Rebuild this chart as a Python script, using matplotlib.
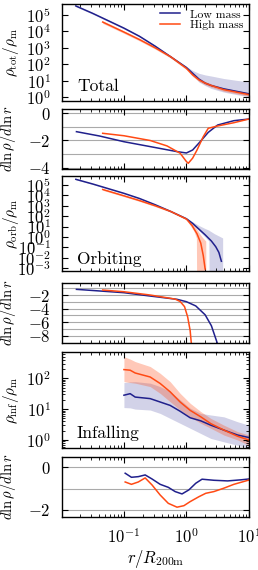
import numpy as np
import matplotlib
matplotlib.use("Agg")
from matplotlib import pyplot as plt

#-----------------------Data (log10 values)-----------------------#

# total density
lr_tot_low = [-1.77, -1.5, -1.25, -1.0, -0.75, -0.5, -0.25, 0.0, 0.1, 0.2, 0.3, 0.4, 0.6, 0.8, 1.0]
ld_tot_low = [5.55, 5.1, 4.65, 4.2, 3.7, 3.1, 2.45, 1.8, 1.45, 1.1, 0.85, 0.7, 0.5, 0.35, 0.2]
ld_tot_low_up = [5.6, 5.15, 4.7, 4.25, 3.75, 3.15, 2.5, 1.87, 1.62, 1.45, 1.35, 1.28, 1.13, 1.02, 0.93]
ld_tot_low_dn = [5.5, 5.05, 4.6, 4.15, 3.65, 3.05, 2.4, 1.75, 1.35, 0.92, 0.7, 0.52, 0.3, 0.15, 0.02]

lr_tot_high = [-1.34, -1.0, -0.75, -0.5, -0.25, 0.0, 0.1, 0.2, 0.3, 0.4, 0.6, 0.8, 1.0]
ld_tot_high = [4.57, 3.96, 3.5, 3.0, 2.45, 1.75, 1.35, 1.05, 0.85, 0.7, 0.45, 0.3, 0.15]
ld_tot_high_up = [4.65, 4.04, 3.58, 3.08, 2.53, 1.83, 1.45, 1.15, 0.95, 0.8, 0.55, 0.4, 0.26]
ld_tot_high_dn = [4.49, 3.88, 3.42, 2.92, 2.37, 1.67, 1.25, 0.95, 0.75, 0.6, 0.35, 0.2, 0.05]

# total slope
lr_slp_tot_low = [-1.76, -1.39, -1.0, -0.58, -0.15, 0.0, 0.1, 0.22, 0.35, 0.5, 0.76, 1.0]
slp_tot_low = [-1.35, -1.67, -2.09, -2.45, -2.82, -2.92, -2.7, -2.09, -1.4, -0.86, -0.54, -0.42]
lr_slp_tot_high = [-1.34, -1.0, -0.58, -0.31, -0.1, 0.0, 0.03, 0.1, 0.17, 0.27, 0.35, 0.5, 0.76, 1.0]
slp_tot_high = [-1.47, -1.65, -2.0, -2.4, -2.94, -3.55, -3.68, -3.3, -2.7, -1.72, -1.1, -0.93, -0.69, -0.42]

# orbiting density
lr_orb_low = [-1.77, -1.5, -1.25, -1.0, -0.75, -0.5, -0.25, 0.0, 0.1, 0.2, 0.3, 0.4, 0.47, 0.52, 0.56]
ld_orb_low = [5.55, 5.1, 4.65, 4.2, 3.7, 3.1, 2.45, 1.75, 1.3, 0.75, 0.2, -0.4, -0.95, -1.5, -2.35]
lr_orb_low_band = [-1.77, -1.5, -1.25, -1.0, -0.75, -0.5, -0.25, 0.0, 0.1, 0.2, 0.3, 0.36, 0.37, 0.45, 0.58, 0.585]
ld_orb_low_up = [5.6, 5.15, 4.7, 4.25, 3.75, 3.15, 2.5, 1.82, 1.45, 1.1, 0.8, 0.65, 0.6, 0.3, -0.1, -10]
ld_orb_low_dn = [5.5, 5.05, 4.6, 4.15, 3.65, 3.05, 2.4, 1.7, 1.2, 0.6, 0.0, -0.4, -10, -10, -10, -10]

lr_orb_high = [-1.34, -1.0, -0.75, -0.5, -0.25, 0.0, 0.09, 0.17, 0.23, 0.27, 0.30]
ld_orb_high = [4.57, 3.96, 3.5, 3.0, 2.45, 1.72, 1.1, 0.3, -0.6, -1.8, -3.1]
lr_orb_high_band = [-1.34, -1.0, -0.75, -0.5, -0.25, 0.0, 0.09, 0.12, 0.16, 0.17, 0.25, 0.31, 0.315]
ld_orb_high_up = [4.65, 4.04, 3.58, 3.08, 2.53, 1.8, 1.3, 1.1, 0.8, 0.7, 0.0, -0.4, -10]
ld_orb_high_dn = [4.49, 3.88, 3.42, 2.92, 2.37, 1.64, 0.85, 0.55, -0.1, -10, -10, -10, -10]

# orbiting slope
lr_slp_orb_low = [-1.76, -1.0, -0.58, -0.15, 0.0, 0.15, 0.3, 0.4, 0.5]
slp_orb_low = [-1.17, -1.66, -2.15, -2.63, -2.98, -3.6, -4.9, -6.5, -9.2]
lr_slp_orb_high = [-1.34, -1.0, -0.58, -0.18, -0.1, -0.03, 0.02, 0.06, 0.08]
slp_orb_high = [-1.27, -1.52, -2.0, -2.6, -2.95, -3.7, -5.2, -7.2, -9.2]

# infalling density
lr_inf = [-1.0, -0.9, -0.82, -0.58, -0.42, -0.26, -0.1, 0.06, 0.23, 0.39, 0.6, 0.82, 1.0]
ld_inf_low = [1.45, 1.5, 1.39, 1.34, 1.23, 1.12, 0.93, 0.72, 0.62, 0.48, 0.32, 0.16, 0.08]
ld_inf_low_up = [1.86, 1.88, 1.89, 1.84, 1.73, 1.57, 1.3, 1.03, 0.86, 0.81, 0.75, 0.59, 0.48]
ld_inf_low_dn = [1.05, 1.04, 1.0, 0.97, 0.86, 0.7, 0.54, 0.38, 0.21, 0.05, -0.06, -0.17, -0.27]
ld_inf_high = [2.28, 2.26, 2.17, 2.04, 1.83, 1.56, 1.23, 0.96, 0.75, 0.53, 0.32, 0.12, 0.0]
ld_inf_high_up = [2.7, 2.62, 2.54, 2.38, 2.16, 1.89, 1.51, 1.19, 0.92, 0.7, 0.48, 0.27, 0.16]
ld_inf_high_dn = [1.89, 1.86, 1.84, 1.73, 1.51, 1.24, 0.97, 0.75, 0.54, 0.38, 0.16, 0.0, -0.17]

# infalling slope
lr_slp_inf_low = [-0.98, -0.88, -0.77, -0.66, -0.55, -0.42, -0.29, -0.18, -0.07, 0.04, 0.15, 0.25, 0.44, 0.66, 0.87, 1.0]
slp_inf_low = [-0.28, -0.47, -0.44, -0.36, -0.55, -0.8, -0.94, -1.14, -1.25, -1.06, -0.75, -0.56, -0.61, -0.64, -0.59, -0.55]
lr_slp_inf_high = [-0.98, -0.88, -0.77, -0.66, -0.55, -0.42, -0.29, -0.15, -0.04, 0.06, 0.2, 0.31, 0.44, 0.6, 0.76, 1.0]
slp_inf_high = [-0.69, -0.8, -0.69, -0.5, -0.83, -1.3, -1.69, -1.87, -1.8, -1.61, -1.38, -1.22, -1.14, -0.98, -0.8, -0.6]

#---------------------------Style---------------------------#

plt.rcParams['font.family'] = 'cmr10'
plt.rcParams['mathtext.fontset'] = 'cm'
plt.rcParams['axes.formatter.use_mathtext'] = True
plt.rcParams['font.size'] = 12
plt.rcParams['xtick.labelsize'] = 12
plt.rcParams['ytick.labelsize'] = 12
plt.rcParams['xtick.direction'] = 'in'
plt.rcParams['ytick.direction'] = 'in'
plt.rcParams['xtick.top'] = True
plt.rcParams['ytick.right'] = True
plt.rcParams['xtick.major.pad'] = 7
plt.rcParams['ytick.major.pad'] = 8
plt.rcParams['axes.linewidth'] = 1.0

c_low = '#20208c'
c_high = '#ff4a14'

def p(a):
    return 10 ** np.asarray(a)

fig = plt.figure(figsize=(2.58, 5.70), dpi=100)

def panel(top, bottom):
    return fig.add_axes([62 / 258, 1 - bottom / 570, 187 / 258, (bottom - top) / 570])

ax1 = panel(4, 101)
ax2 = panel(109, 169)
ax3 = panel(176, 271)
ax4 = panel(283, 343)
ax5 = panel(352, 448)
ax6 = panel(457, 517)
axes = [ax1, ax2, ax3, ax4, ax5, ax6]

# Total
ax1.fill_between(p(lr_tot_low), p(ld_tot_low_dn), p(ld_tot_low_up), color=c_low, alpha=0.2, lw=0)
ax1.fill_between(p(lr_tot_high), p(ld_tot_high_dn), p(ld_tot_high_up), color=c_high, alpha=0.3, lw=0)
ax1.plot(p(lr_tot_low), p(ld_tot_low), color=c_low, lw=1.1, label='Low mass')
ax1.plot(p(lr_tot_high), p(ld_tot_high), color=c_high, lw=1.1, label='High mass')
ax1.set_yscale('log')
ax1.set_ylim(10 ** -0.24, 10 ** 5.67)
ax1.set_yticks([10.0 ** k for k in range(0, 6)])
ax1.set_ylabel(r'$\rho_{\rm tot}/\rho_{\rm m}$', fontsize=11)
ax1.text(0.08, 0.1, 'Total', transform=ax1.transAxes, fontsize=12.5)
ax1.legend(loc='upper right', bbox_to_anchor=(1.0, 1.0), frameon=False, fontsize=8.5,
           handlelength=1.7, handletextpad=0.85, labelspacing=0.05,
           borderaxespad=0.0, borderpad=0.45)

ax2.plot(p(lr_slp_tot_low), slp_tot_low, color=c_low, lw=1.1)
ax2.plot(p(lr_slp_tot_high), slp_tot_high, color=c_high, lw=1.1)
ax2.set_ylim(-4.1, 0.32)
ax2.set_yticks([-4, -2, 0])
for v in [-4, -3, -2, -1, 0]:
    ax2.axhline(v, color='#aaaaaa', lw=0.8, zorder=0)

# Orbiting
ax3.fill_between(p(lr_orb_low_band), p(ld_orb_low_dn), p(ld_orb_low_up), color=c_low, alpha=0.2, lw=0)
ax3.fill_between(p(lr_orb_high_band), p(ld_orb_high_dn), p(ld_orb_high_up), color=c_high, alpha=0.3, lw=0)
ax3.plot(p(lr_orb_low), p(ld_orb_low), color=c_low, lw=1.1)
ax3.plot(p(lr_orb_high), p(ld_orb_high), color=c_high, lw=1.1)
ax3.set_yscale('log')
ax3.set_ylim(10 ** -3.29, 10 ** 5.87)
ax3.set_yticks([10.0 ** k for k in range(-3, 6)])
ax3.set_ylabel(r'$\rho_{\rm orb}/\rho_{\rm m}$', fontsize=11)
ax3.text(0.08, 0.07, 'Orbiting', transform=ax3.transAxes, fontsize=12.5)

ax4.plot(p(lr_slp_orb_low), slp_orb_low, color=c_low, lw=1.1)
ax4.plot(p(lr_slp_orb_high), slp_orb_high, color=c_high, lw=1.1)
ax4.set_ylim(-9.03, -0.24)
ax4.set_yticks([-8, -6, -4, -2])
for v in range(-9, 0):
    ax4.axhline(v, color='#aaaaaa', lw=0.8, zorder=0)

# Infalling
ax5.fill_between(p(lr_inf), p(ld_inf_low_dn), p(ld_inf_low_up), color=c_low, alpha=0.2, lw=0)
ax5.fill_between(p(lr_inf), p(ld_inf_high_dn), p(ld_inf_high_up), color=c_high, alpha=0.3, lw=0)
ax5.plot(p(lr_inf), p(ld_inf_low), color=c_low, lw=1.1)
ax5.plot(p(lr_inf), p(ld_inf_high), color=c_high, lw=1.1)
ax5.set_yscale('log')
ax5.set_ylim(10 ** -0.26, 10 ** 2.85)
ax5.set_ylabel(r'$\rho_{\rm inf}/\rho_{\rm m}$', fontsize=11)
ax5.text(0.08, 0.1, 'Infalling', transform=ax5.transAxes, fontsize=12.5)

ax6.plot(p(lr_slp_inf_low), slp_inf_low, color=c_low, lw=1.1)
ax6.plot(p(lr_slp_inf_high), slp_inf_high, color=c_high, lw=1.1)
ax6.set_ylim(-2.33, 0.48)
ax6.set_yticks([-2, 0])
for v in [-2, -1, 0]:
    ax6.axhline(v, color='#aaaaaa', lw=0.8, zorder=0)
ax6.set_xlabel(r'$r/R_{\rm 200m}$', fontsize=12, labelpad=2)

for ax in [ax2, ax4, ax6]:
    ax.set_ylabel(r'$d\ln\rho/d\ln r$', fontsize=10.5)
    ax.yaxis.set_label_coords(-0.235, 0.5)
for ax in [ax1, ax3, ax5]:
    ax.yaxis.set_label_coords(-0.22, 0.5)

for ax in axes:
    ax.set_xscale('log')
    ax.set_xlim(0.0102, 10.05)
    ax.tick_params(which='major', length=4, width=0.8)
    ax.tick_params(which='minor', length=2, width=0.6)
    if ax is not ax6:
        ax.tick_params(labelbottom=False)

fig.savefig('out.png', dpi=100)
